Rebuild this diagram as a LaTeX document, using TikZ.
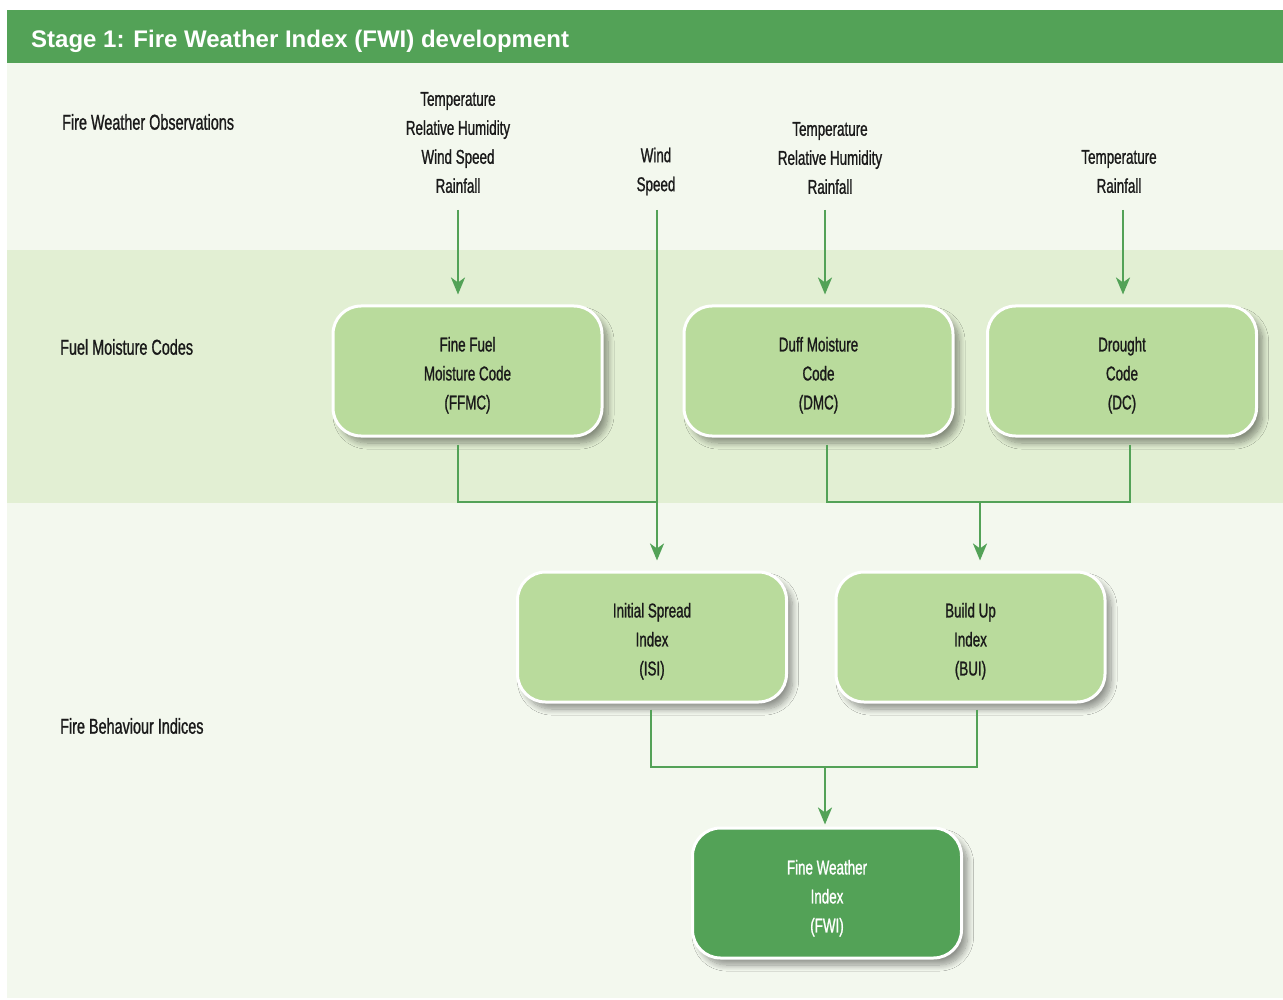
\documentclass[tikz,border=0pt]{standalone}
\usepackage{fontspec}
\setmainfont{Liberation Sans}
\newfontfamily\cond[FakeStretch=0.67,FakeBold=1]{Liberation Sans}
\usetikzlibrary{arrows.meta,shadows.blur}
\definecolor{hdr}{HTML}{53A257}
\definecolor{boxg}{HTML}{B9DB9C}
\definecolor{band}{HTML}{E2EFD3}
\definecolor{panel}{HTML}{F3F8EE}
\definecolor{txt}{HTML}{1A1A1A}
\newcommand\topstrut{\rule{0pt}{23pt}}
\newcommand\topstrutb{\rule{0pt}{25pt}}
\tikzset{
  boxnode/.style={rounded corners=28pt, draw=white, line width=3pt, fill=boxg,
    minimum width=269pt, minimum height=130pt, align=center, text=txt,
    font=\cond\fontsize{20}{29}\selectfont,
    blur shadow={shadow xshift=6pt, shadow yshift=-7pt, shadow blur radius=6pt,
      shadow blur steps=10, shadow opacity=40}},
  darkbox/.style={boxnode, fill=hdr, text=white},
  obs/.style={align=center, text=txt, font=\cond\fontsize{20}{29}\selectfont, inner sep=0pt},
  lbl/.style={anchor=west, text=txt, font=\cond\fontsize{21.5}{26}\selectfont, inner sep=0pt},
  ln/.style={draw=hdr, line width=2.6pt, line join=miter},
  arr/.style={ln, -{Stealth[length=17pt,width=14pt,inset=5pt]}}
}
\begin{document}
\begin{tikzpicture}[x=1pt,y=-1pt]
\useasboundingbox (0,0) rectangle (1283,1000);
% backgrounds
\fill[panel] (7,63) rectangle (1283,998);
\fill[band] (7,250) rectangle (1283,503);
\fill[hdr] (7,10) rectangle (1283,63);
\node[anchor=west, inner sep=0pt, text=white, font=\bfseries\fontsize{24}{28}\selectfont] (title) at (31,41) {Stage 1: Fire Weather Index (FWI) development};
% row labels
\node[lbl] (l1) at (62,122) {Fire Weather Observations};
\node[lbl] (l2) at (60,347) {Fuel Moisture Codes};
\node[lbl] (l3) at (60,726) {Fire Behaviour Indices};
% observation texts
\node[obs] (t1) at (458,142.5) {Temperature\\Relative Humidity\\Wind Speed\\Rainfall};
\node[obs] (t2) at (656,171.5) {Wind\\Speed};
\node[obs] (t3) at (830,158) {Temperature\\Relative Humidity\\Rainfall};
\node[obs] (t4) at (1119,171.5) {Temperature\\Rainfall};
% boxes
\node[boxnode] (ffmc) at (467.5,371) {\topstrut Fine Fuel\\Moisture Code\\(FFMC)};
\node[boxnode] (dmc) at (818.5,371) {\topstrut Duff Moisture\\Code\\(DMC)};
\node[boxnode] (dc) at (1122,371) {\topstrut Drought\\Code\\(DC)};
\node[boxnode] (isi) at (652,637) {\topstrut Initial Spread\\Index\\(ISI)};
\node[boxnode] (bui) at (970.5,637) {\topstrut Build Up\\Index\\(BUI)};
\node[darkbox] (fwi) at (827,893) {\topstrutb Fine Weather\\Index\\(FWI)};
% connector points
\coordinate (s1) at (458,210);
\coordinate (s2) at (657,210);
\coordinate (s3) at (825,210);
\coordinate (s4) at (1123,210);
\coordinate (j1) at (657,502);
\coordinate (j2) at (980,502);
\coordinate (j3) at (825,767);
\coordinate (b1) at (827,0);
\coordinate (b2) at (1130,0);
\coordinate (b3) at (651,0);
\coordinate (b4) at (977,0);
% input arrows
\draw[arr, shorten >=10pt] (s1) -- (s1 |- ffmc.north);
\draw[arr, shorten >=10pt] (s2) -- (s2 |- isi.north);
\draw[arr, shorten >=10pt] (s3) -- (s3 |- dmc.north);
\draw[arr, shorten >=10pt] (s4) -- (s4 |- dc.north);
% from codes to indices
\draw[ln, shorten <=7pt] (ffmc.south -| s1) |- (j1);
\draw[ln, shorten <=7pt] (dmc.south -| b1) |- (j2);
\draw[ln, shorten <=7pt] (dc.south -| b2) |- (j2);
\draw[arr, shorten >=10pt] (j2) -- (j2 |- bui.north);
% from indices to FWI
\draw[ln, shorten <=6pt] (isi.south -| b3) |- (j3);
\draw[ln, shorten <=6pt] (bui.south -| b4) |- (j3);
\draw[arr, shorten >=2pt] (j3) -- (j3 |- fwi.north);
\end{tikzpicture}
\end{document}
